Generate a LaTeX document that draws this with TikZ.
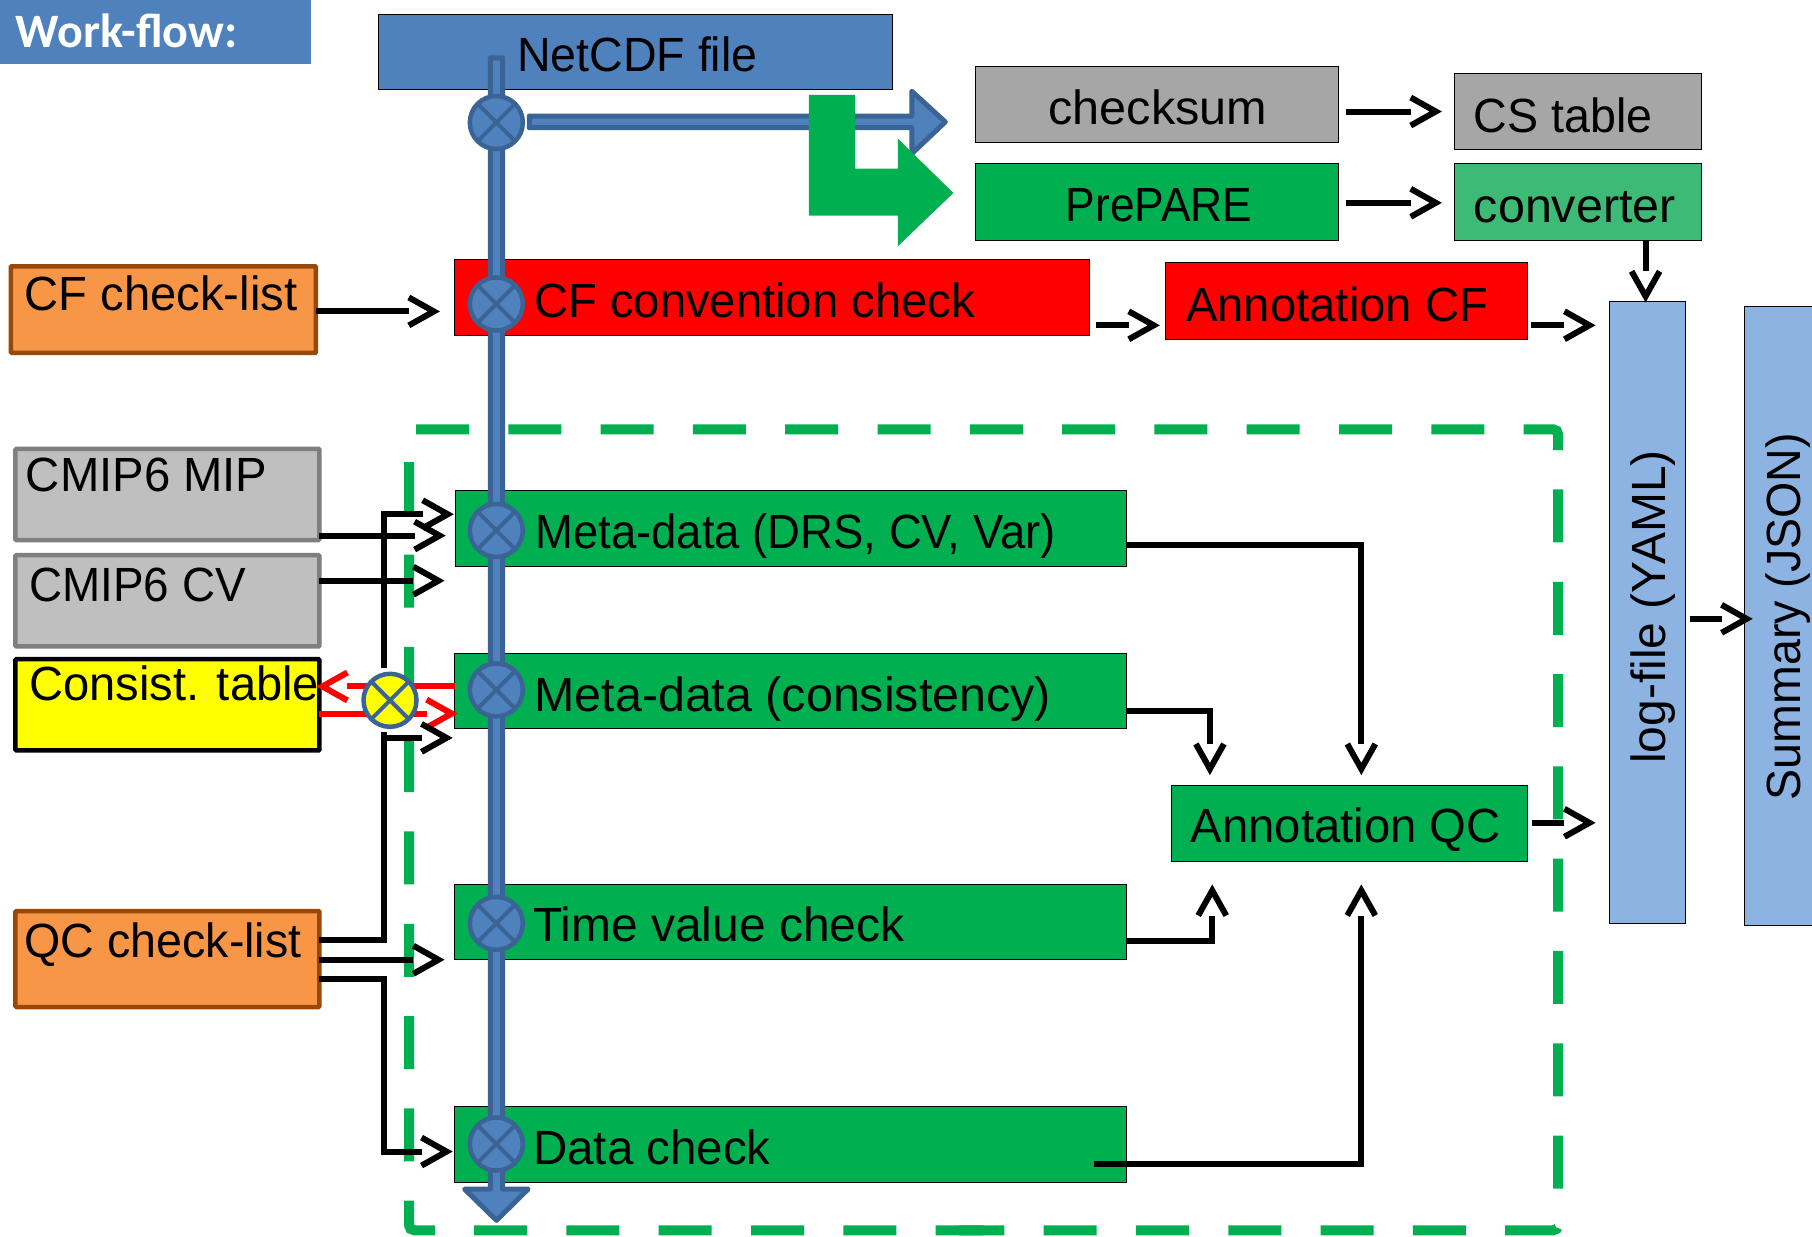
\documentclass[tikz,border=0pt]{standalone}
\usepackage{fontspec}
\setmainfont[FakeStretch=0.97]{Liberation Sans}
\newfontfamily\wffont{Carlito}
\usetikzlibrary{arrows.meta}
\definecolor{bfill}{HTML}{4F81BD}
\definecolor{bdark}{HTML}{3A6496}
\definecolor{gfill}{HTML}{00B050}
\definecolor{conv}{HTML}{3DBB76}
\definecolor{lblue}{HTML}{8DB3E2}
\definecolor{gfa}{HTML}{A6A6A6}
\definecolor{gbf}{HTML}{BFBFBF}
\definecolor{gbd}{HTML}{7F7F7F}
\definecolor{ofill}{HTML}{F79646}
\definecolor{odark}{HTML}{984807}
\definecolor{yfill}{rgb}{1,1,0}
\definecolor{rfill}{rgb}{1,0,0}
\pgfdeclarearrow{
  name=OpenV,
  setup code={\pgfarrowssettipend{1.5pt}\pgfarrowssetlineend{-26.5pt}\pgfarrowssetbackend{-28pt}},
  drawing code={\pgfsetdash{}{0pt}\pgfsetmiterjoin
    \pgfpathmoveto{\pgfqpoint{-26.5pt}{14pt}}\pgfpathlineto{\pgfqpoint{-1.5pt}{0pt}}\pgfpathlineto{\pgfqpoint{-26.5pt}{-14pt}}\pgfusepathqstroke},
}
\def\U{1.15561}
\newcommand\hs[2]{\scalebox{#1}[1]{#2}}
\newcommand\pbox[9]{%
  \pgfmathsetlengthmacro\bw{(#4-#2)*\U pt}%
  \pgfmathsetlengthmacro\bh{(#5-#3)*\U pt}%
  \pgfmathsetlengthmacro\pd{(#7-#2)*\U pt}%
  \pgfmathsetlengthmacro\dy{((#3+#5)/2-#8)*\U pt}%
  \node[plain,#6,minimum width=\bw,minimum height=\bh] (#1) at ({(#2+#4)/2+0.4},{(#3+#5)/2+0.4})
    {\makebox[\bw][l]{\hspace*{\pd}\raisebox{\dy}[0pt][0pt]{#9}}};}
\tikzset{
  plain/.style={rectangle,inner sep=0pt,outer sep=0pt,font=\fontsize{48}{50}\selectfont},
  thinbox/.style={draw=black,line width=1pt},
  greenbox/.style={thinbox,fill=gfill},
  redbox/.style={thinbox,fill=rfill},
  greybox/.style={thinbox,fill=gfa},
  lightbox/.style={thinbox,fill=lblue},
  srcgrey/.style={draw=gbd,fill=gbf,line width=4.5pt,rounded corners=1pt},
  srcorange/.style={draw=odark,fill=ofill,line width=4.5pt,rounded corners=1pt},
  srcyellow/.style={draw=black,fill=yfill,line width=4.5pt,rounded corners=1pt},
  xcirc/.style={circle,draw=bdark,line width=4.5pt,fill=#1,minimum size=53pt,inner sep=0pt,outer sep=0pt,
    path picture={\draw[bdark,line width=4pt] (path picture bounding box.north west)--(path picture bounding box.south east)
      (path picture bounding box.north east)--(path picture bounding box.south west);}},
  xcirc/.default=bfill,
  conn/.style={draw=black,line width=6pt,line join=miter,-OpenV},
  plainconn/.style={draw=black,line width=6pt,line join=miter},
  redconn/.style={draw=rfill,line width=6pt,-OpenV},
  blueshape/.style={fill=bfill,draw=bdark,line width=5pt,line join=round},
  dashgreen/.style={draw=gfill,line width=10pt,dash pattern=on 53pt off 39.3pt,rounded corners=5pt},
}
\begin{document}
\begin{tikzpicture}[x=1.15561pt,y=-1.15561pt]
\clip (0,0) rectangle (1568,1069.6);
\fill[white] (0,0) rectangle (1568,1069.6);
% dashed frame
\draw[dashgreen] (360,371.5) -- (1348.3,371.5) -- (1348.3,1064.6) -- (830,1064.6);
\draw[dashgreen] (354,400) -- (354,1064.6) -- (851,1064.6);
% boxes
\node[plain,fill=bfill,minimum width=311pt,minimum height=64pt,anchor=north west] (wf) at (0,0)
  {\makebox[311pt][l]{\hspace*{16pt}\raisebox{-16pt}[0pt][0pt]{\wffont\fontsize{48}{50}\selectfont\bfseries\color{white}Work-flow:}}};
\pbox{nc}{327}{12}{772}{77}{thinbox,fill=bfill}{447}{61.5}{NetCDF file}
\pbox{cs}{844}{57}{1158}{123}{greybox}{907}{107}{\hs{1.044}{checksum}}
\pbox{pp}{844}{141}{1158}{208}{greenbox}{922}{191}{\hs{0.952}{PrePARE}}
\pbox{cst}{1258}{63}{1472}{129}{greybox}{1275}{114}{CS table}
\pbox{cv}{1258}{141}{1472}{208}{thinbox,fill=conv}{1275}{192}{\hs{1.04}{converter}}
\pbox{cfl}{9}{230}{273}{305}{srcorange}{21}{268}{\hs{1.013}{CF check-list}}
\pbox{cfc}{393}{224}{942}{290}{redbox}{462}{274}{\hs{1.013}{CF convention check}}
\pbox{acf}{1008}{227}{1321}{293}{redbox}{1026}{278}{\hs{1.015}{Annotation CF}}
\pbox{mip}{13}{388}{276}{467}{srcgrey}{22}{425}{\hs{1.015}{CMIP6 MIP}}
\pbox{cvt}{13}{480}{276}{559}{srcgrey}{25}{520}{\hs{0.984}{CMIP6 CV}}
\pbox{con}{13}{570}{276}{649}{srcyellow}{25}{606}{\hs{1.012}{Consist. table}}
\pbox{qcl}{13}{788}{276}{871}{srcorange}{21}{828}{QC check-list}
\pbox{m1}{394}{424}{974}{490}{greenbox}{463}{474}{\hs{0.976}{Meta-data (DRS, CV, Var)}}
\pbox{m2}{393}{565}{974}{630}{greenbox}{462}{615}{\hs{1.04}{Meta-data (consistency)}}
\pbox{tv}{393}{765}{974}{830}{greenbox}{461}{814}{\hs{1.03}{Time value check}}
\pbox{dc}{393}{957}{974}{1023}{greenbox}{461}{1007}{\hs{1.02}{Data check}}
\pbox{aqc}{1013}{679}{1321}{745}{greenbox}{1030}{729}{\hs{1.015}{Annotation QC}}
\node[plain,lightbox,minimum width=75.5pt,minimum height=621.7pt] (lg) at (1425.5,530)
  {\raisebox{-7pt}[0pt][0pt]{\hspace*{12pt}\rotatebox[origin=c]{90}{\hs{1.03}{log-file (YAML)}}}};
\node[plain,lightbox,minimum width=104pt,minimum height=619.4pt] (sm) at (1555,533)
  {\raisebox{-13pt}[0pt][0pt]{\hspace*{-17pt}\rotatebox[origin=c]{90}{Summary (JSON)}}};
% upper right arrows
\coordinate (e1) at (1245,96.5); \coordinate (e2) at (1245,175.5);
\draw[conn] (1165,96.5) -- (e1);
\draw[conn] (1165,175.5) -- (e2);
\draw[conn] (1424,208) -- (1424,259);
\draw[conn] (cfl.east |- 0,269.5) -- (378,269.5);
\draw[conn] (948,281.5) -- (1001,281.5);
\draw[conn] (1325,281.5) -- (1378,281.5);
\draw[conn] (1462,535.5) -- (1514,535.5);
\draw[conn] (1326,712) -- (1378,712);
% annotation QC inputs
\coordinate (a1) at (1178,668); \coordinate (a2) at (1047,668);
\coordinate (a3) at (1049,768); \coordinate (a4) at (1178,768);
\draw[conn] (m1.east |- 0,471.5) -| (a1);
\draw[conn] (m2.east |- 0,615.5) -| (a2);
\draw[conn] (tv.east |- 0,814) -| (a3);
\draw[conn] (947,1007.5) -| (a4);
% red arrows
\draw[redconn] (m2.west |- 0,594) -- (con.east |- 0,594);
\draw[redconn] (con.east |- 0,617.5) -- (m2.west |- 0,617.5);
% left
\draw[conn] (mip.east |- 0,463.5) -- (383,463.5);
\draw[conn] (cvt.east |- 0,502.5) -- (382,502.5);
\draw[conn] (qcl.east |- 0,830.5) -- (382,830.5);
\coordinate (t1) at (332.5,578);\coordinate (t2) at (332.5,445);\coordinate (t3) at (390,445);
\draw[conn] (t1) -- (t2) -- (t3);
\coordinate (l1) at (332.5,633);\coordinate (l2) at (332.5,813.5);
\draw[plainconn] (qcl.east |- l2) -- (l2) -- (l1);
\coordinate (l3) at (332.5,638.5);\coordinate (l4) at (389,638.5);
\draw[conn] (l3) -- (l4);
\coordinate (d1) at (332.5,847.5);\coordinate (d2) at (332.5,996.5);\coordinate (d3) at (389,996.5);
\draw[conn] (qcl.east |- d1) -- (d1) -- (d2) -- (d3);
% blue flow
\draw[blueshape] (424.3,50) -- (434.9,50) -- (434.9,1029) -- (457,1029) -- (429.6,1056) -- (402,1029) -- (424.3,1029) -- cycle;
\draw[blueshape] (458,100.5) -- (789,100.5) -- (789,79) -- (818,105.5) -- (789,133) -- (789,110.5) -- (458,110.5) -- cycle;
\fill[gfill] (700,82) -- (740,82) -- (740,146) -- (777,146) -- (777,120) -- (825,167) -- (777,213) -- (777,186.5) -- (700,186.5) -- cycle;
\node[xcirc] (c0) at (429.5,106) {};
\node[xcirc] (c1) at (429.5,263) {};
\node[xcirc] (c2) at (429.5,459) {};
\node[xcirc] (c3) at (429.5,597) {};
\node[xcirc] (c4) at (429.5,799) {};
\node[xcirc] (c5) at (429.5,990) {};
\node[xcirc=yfill] (c6) at (337.5,606) {};
\end{tikzpicture}
\end{document}
